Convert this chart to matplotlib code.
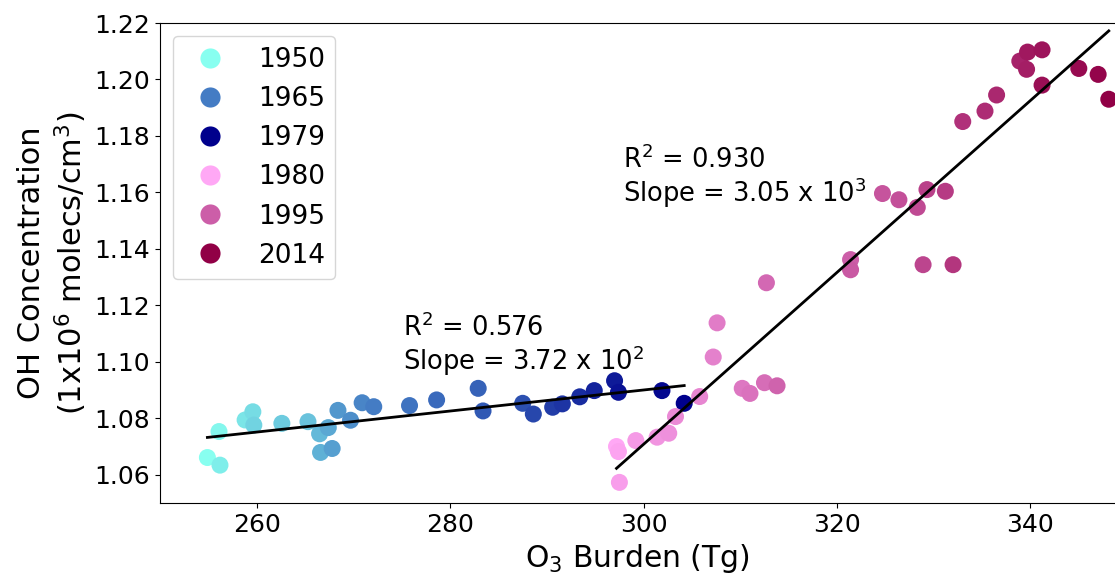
import numpy as np
import matplotlib
matplotlib.use('Agg')
import matplotlib.pyplot as plt
from matplotlib.colors import LinearSegmentedColormap
from matplotlib.lines import Line2D

# O3 burden (Tg) and OH concentration (1e6 molec/cm3)

years_early = list(range(1950, 1980))
o3_early = [254.9, 256.1, 256.2, 258.8, 259.6, 259.7, 262.6, 265.3, 266.5, 266.6,
            267.4, 267.8, 268.4, 269.7, 270.9, 272.1, 275.8, 278.6, 282.9, 283.4,
            287.5, 288.6, 290.6, 291.6, 293.4, 294.9, 297.0, 297.4, 301.9, 304.2]
oh_early = [1.0661, 1.0753, 1.0634, 1.0794, 1.0823, 1.0776, 1.0782, 1.0788, 1.0745, 1.0679,
            1.0767, 1.0693, 1.0828, 1.0793, 1.0855, 1.0841, 1.0845, 1.0865, 1.0906, 1.0826,
            1.0853, 1.0815, 1.0839, 1.0851, 1.0876, 1.0898, 1.0933, 1.0892, 1.0898, 1.0853]

years_late = list(range(1980, 2015))
o3_late = [297.2, 297.4, 297.5, 299.2, 301.4, 302.6, 303.3, 305.8, 307.2, 307.6,
           310.2, 311.0, 312.5, 312.7, 313.8, 321.4, 321.4, 324.7, 326.4, 328.3,
           328.9, 329.3, 331.2, 332.0, 333.0, 335.3, 336.5, 338.9, 339.6, 339.7,
           341.2, 341.2, 345.0, 347.0, 348.1]
oh_late = [1.0700, 1.0682, 1.0573, 1.0721, 1.0733, 1.0747, 1.0806, 1.0877, 1.1017, 1.1138,
           1.0906, 1.0888, 1.0926, 1.1280, 1.0915, 1.1362, 1.1326, 1.1596, 1.1574, 1.1547,
           1.1344, 1.1610, 1.1604, 1.1344, 1.1851, 1.1888, 1.1945, 1.2065, 1.2036, 1.2097,
           1.2105, 1.1980, 1.2039, 1.2018, 1.1930]

legend_years = [1950, 1965, 1979, 1980, 1995, 2014]
fit_labels = ["R$^2$ = 0.576\nSlope = 3.72 x 10$^2$",
              "R$^2$ = 0.930\nSlope = 3.05 x 10$^3$"]

cmap_early = LinearSegmentedColormap.from_list(
    'early', [(0.0, '#88FFF0'), (15 / 29, '#447CC4'), (1.0, '#00008C')])
cmap_late = LinearSegmentedColormap.from_list(
    'late', [(0.0, '#FFA8F5'), (15 / 34, '#CC5EA8'), (1.0, '#910046')])


def year_color(year):
    if year < 1980:
        return cmap_early((year - 1950) / 29)
    return cmap_late((year - 1980) / 34)


fig = plt.figure(figsize=(11.15, 5.78), dpi=100)
ax = fig.add_axes([0.1435, 0.1298, 0.857, 0.8304])

for yrs, xs, ys in [(years_early, o3_early, oh_early), (years_late, o3_late, oh_late)]:
    cols = [year_color(y) for y in yrs]
    ax.scatter(xs, ys, s=150, c=cols, edgecolors='none', zorder=1)

# linear fits for each period
for xs, ys in [(o3_early, oh_early), (o3_late, oh_late)]:
    xs = np.array(xs)
    m, b = np.polyfit(xs, ys, 1)
    xx = np.array([xs.min(), xs.max()])
    ax.plot(xx, m * xx + b, color='black', linewidth=2, zorder=2)

ax.text(275.1, 1.1171, fit_labels[0], fontsize=18.5, va='top', ha='left', linespacing=1.05)
ax.text(297.9, 1.1765, fit_labels[1], fontsize=18.5, va='top', ha='left', linespacing=1.05)

handles = [Line2D([], [], linestyle='none', marker='o', markersize=14.5,
                  markerfacecolor=year_color(y), markeredgecolor='none') for y in legend_years]
ax.legend(handles, [str(y) for y in legend_years], loc='upper left', fontsize=19)

ax.set_xlim(250, 348.8)
ax.set_ylim(1.05, 1.22)
ax.set_xticks([260, 280, 300, 320, 340])
ax.set_yticks(np.arange(1.06, 1.2201, 0.02))
ax.tick_params(labelsize=18)
ax.set_xlabel('O$_3$ Burden (Tg)', fontsize=21.5)
ax.set_ylabel('OH Concentration\n(1x10$^6$ molecs/cm$^3$)', fontsize=22)

fig.savefig('out.png', dpi=100)
